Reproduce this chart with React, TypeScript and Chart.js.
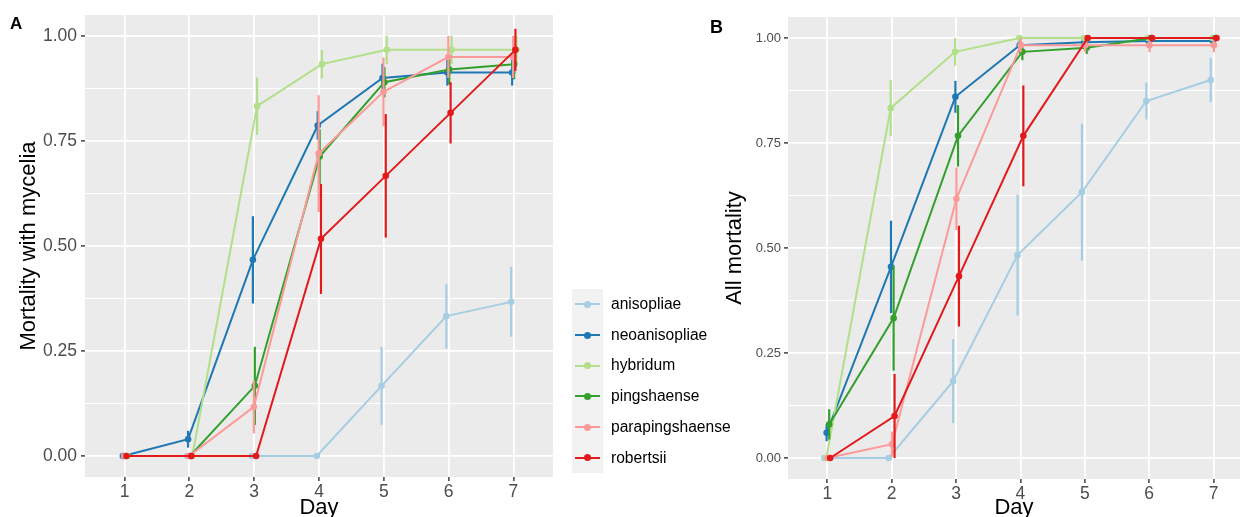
import React, { useEffect, useRef } from 'react';
import { Chart, registerables } from 'chart.js';

Chart.register(...registerables);

const FONT = "'Liberation Sans', Arial, Helvetica, sans-serif";

// ---------- data ----------
const DAYS = [1, 2, 3, 4, 5, 6, 7];
const SPECIES = ['anisopliae', 'neoanisopliae', 'hybridum', 'pingshaense', 'parapingshaense', 'robertsii'];
const COLORS = ['#A6CEE3', '#1F78B4', '#B2DF8A', '#33A02C', '#FB9A99', '#E31A1C'];
const Y_MAJOR = [0, 0.25, 0.5, 0.75, 1];
const Y_MINOR = [0.125, 0.375, 0.625, 0.875];

// Panel A: mortality with mycelia (mean and error half-width)
const A_ANISOPLIAE = [0, 0, 0, 0, 0.167, 0.333, 0.367];
const A_ANISOPLIAE_ERR = [0, 0, 0, 0, 0.093, 0.077, 0.083];
const A_NEOANISOPLIAE = [0, 0.04, 0.467, 0.787, 0.9, 0.913, 0.913];
const A_NEOANISOPLIAE_ERR = [0, 0.02, 0.104, 0.034, 0.034, 0.031, 0.031];
const A_HYBRIDUM = [0, 0, 0.833, 0.933, 0.967, 0.967, 0.967];
const A_HYBRIDUM_ERR = [0, 0, 0.068, 0.034, 0.034, 0.034, 0.034];
const A_PINGSHAENSE = [0, 0, 0.167, 0.713, 0.89, 0.92, 0.933];
const A_PINGSHAENSE_ERR = [0, 0, 0.093, 0.065, 0.036, 0.036, 0.036];
const A_PARAPINGSHAENSE = [0, 0, 0.117, 0.72, 0.867, 0.95, 0.95];
const A_PARAPINGSHAENSE_ERR = [0, 0, 0.063, 0.139, 0.082, 0.05, 0.05];
const A_ROBERTSII = [0, 0, 0, 0.517, 0.667, 0.817, 0.967];
const A_ROBERTSII_ERR = [0, 0, 0, 0.131, 0.147, 0.073, 0.05];

// Panel B: all mortality
const B_ANISOPLIAE = [0, 0, 0.183, 0.483, 0.633, 0.85, 0.9];
const B_ANISOPLIAE_ERR = [0, 0, 0.1, 0.144, 0.163, 0.044, 0.053];
const B_NEOANISOPLIAE = [0.06, 0.455, 0.86, 0.983, 0.99, 0.993, 0.993];
const B_NEOANISOPLIAE_ERR = [0.02, 0.11, 0.038, 0.01, 0.01, 0.007, 0.007];
const B_HYBRIDUM = [0, 0.833, 0.967, 1, 1, 1, 1];
const B_HYBRIDUM_ERR = [0, 0.067, 0.033, 0, 0, 0, 0];
const B_PINGSHAENSE = [0.08, 0.333, 0.767, 0.967, 0.977, 1, 1];
const B_PINGSHAENSE_ERR = [0.036, 0.125, 0.073, 0.02, 0.015, 0, 0];
const B_PARAPINGSHAENSE = [0, 0.033, 0.617, 0.983, 0.983, 0.983, 0.983];
const B_PARAPINGSHAENSE_ERR = [0, 0.03, 0.075, 0.017, 0.017, 0.017, 0.017];
const B_ROBERTSII = [0, 0.1, 0.433, 0.767, 1, 1, 1];
const B_ROBERTSII_ERR = [0, 0.1, 0.12, 0.12, 0, 0, 0];

// small horizontal dodge per species (in day units)
const DODGE_A = [-0.035, -0.02, 0.045, 0.01, -0.005, 0.03];
const DODGE_B = [-0.045, -0.01, -0.015, 0.03, 0.005, 0.045];

// ---------- plugins ----------
const bgPlugin = {
  id: 'panelBg',
  beforeDraw(chart: any) {
    const { ctx, chartArea: a } = chart;
    ctx.save();
    ctx.fillStyle = '#EBEBEB';
    ctx.fillRect(a.left, a.top, a.right - a.left, a.bottom - a.top);
    ctx.restore();
  },
};

const errPlugin = {
  id: 'errBars',
  afterDatasetDraw(chart: any, args: any) {
    const ds = chart.data.datasets[args.index];
    const errs = ds.errors;
    if (!errs) return;
    const yScale = chart.scales.y;
    const { ctx } = chart;
    ctx.save();
    ctx.strokeStyle = ds.borderColor;
    ctx.lineWidth = 2.2;
    args.meta.data.forEach((pt: any, i: number) => {
      const e = errs[i];
      if (!e) return;
      const v = ds.data[i].y;
      ctx.beginPath();
      ctx.moveTo(pt.x, yScale.getPixelForValue(v - e));
      ctx.lineTo(pt.x, yScale.getPixelForValue(v + e));
      ctx.stroke();
    });
    ctx.restore();
  },
};

const isMajor = (v: number) => Y_MAJOR.some((m) => Math.abs(m - v) < 1e-9);

function buildConfig(p: any) {
  const datasets = SPECIES.map((name, s) => ({
    label: name,
    data: DAYS.map((d, i) => ({ x: d + p.dodge[s], y: p.values[s][i] })),
    errors: p.errors[s],
    borderColor: COLORS[s],
    backgroundColor: COLORS[s],
    pointBackgroundColor: COLORS[s],
    pointBorderColor: COLORS[s],
    pointBorderWidth: 0,
    pointRadius: 3.3,
    borderWidth: 2,
    tension: 0,
    fill: false,
    order: SPECIES.length - s,
  }));
  return {
    type: 'line',
    data: { datasets },
    options: {
      responsive: false,
      animation: false,
      layout: { padding: { top: p.padTop, right: p.padRight, left: 0, bottom: 0 } },
      plugins: { legend: { display: false }, tooltip: { enabled: false } },
      scales: {
        x: {
          type: 'linear',
          min: p.xMin,
          max: p.xMax,
          afterBuildTicks: (sc: any) => {
            sc.ticks = DAYS.map((v) => ({ value: v }));
          },
          afterFit: (sc: any) => {
            sc.height = p.xAxisHeight;
          },
          ticks: {
            autoSkip: false,
            maxRotation: 0,
            padding: 1,
            color: '#4D4D4D',
            font: { family: FONT, size: 17.5 },
            callback: (v: any) => String(v),
          },
          grid: { color: '#FFFFFF', lineWidth: 1.8, tickColor: '#333333', tickLength: 4, tickWidth: 1.4 },
          border: { display: false },
          title: {
            display: true,
            text: 'Day',
            color: '#000000',
            font: { family: FONT, size: 22, lineHeight: 0.8 },
            padding: 0,
          },
        },
        y: {
          type: 'linear',
          min: -0.05,
          max: 1.05,
          afterBuildTicks: (sc: any) => {
            sc.ticks = [...Y_MAJOR, ...Y_MINOR].sort((a, b) => a - b).map((v) => ({ value: v }));
          },
          afterFit: (sc: any) => {
            sc.width = p.yAxisWidth;
          },
          ticks: {
            autoSkip: false,
            padding: p.yTickPad,
            color: '#4D4D4D',
            font: { family: FONT, size: p.yTickSize },
            callback: (v: any) => (isMajor(v) ? Number(v).toFixed(2) : ''),
          },
          grid: {
            color: '#FFFFFF',
            lineWidth: (c: any) => (c.tick && isMajor(c.tick.value) ? 1.8 : 1.0),
            tickColor: (c: any) => (c.tick && isMajor(c.tick.value) ? '#333333' : 'rgba(0,0,0,0)'),
            tickLength: 4,
            tickWidth: 1.4,
          },
          border: { display: false },
          title: {
            display: true,
            text: p.yTitle,
            color: '#000000',
            font: { family: FONT, size: p.yTitleSize, lineHeight: 1 },
            padding: { top: p.yTitlePad, bottom: 0 },
          },
        },
      },
    },
    plugins: [bgPlugin, errPlugin],
  };
}

const PANEL_A = {
  values: [A_ANISOPLIAE, A_NEOANISOPLIAE, A_HYBRIDUM, A_PINGSHAENSE, A_PARAPINGSHAENSE, A_ROBERTSII],
  errors: [A_ANISOPLIAE_ERR, A_NEOANISOPLIAE_ERR, A_HYBRIDUM_ERR, A_PINGSHAENSE_ERR, A_PARAPINGSHAENSE_ERR, A_ROBERTSII_ERR],
  dodge: DODGE_A,
  padTop: 15,
  padRight: 7,
  xMin: 0.39,
  xMax: 7.61,
  xAxisHeight: 40,
  yAxisWidth: 85,
  yTickSize: 17.5,
  yTickPad: 4,
  yTitle: 'Mortality with mycelia',
  yTitleSize: 22,
  yTitlePad: 18,
};

const PANEL_B = {
  values: [B_ANISOPLIAE, B_NEOANISOPLIAE, B_HYBRIDUM, B_PINGSHAENSE, B_PARAPINGSHAENSE, B_ROBERTSII],
  errors: [B_ANISOPLIAE_ERR, B_NEOANISOPLIAE_ERR, B_HYBRIDUM_ERR, B_PINGSHAENSE_ERR, B_PARAPINGSHAENSE_ERR, B_ROBERTSII_ERR],
  dodge: DODGE_B,
  padTop: 17,
  padRight: 0,
  xMin: 0.39,
  xMax: 7.41,
  xAxisHeight: 38,
  yAxisWidth: 98,
  yTickSize: 13,
  yTickPad: 3,
  yTitle: 'All mortality',
  yTitleSize: 22,
  yTitlePad: 34,
};

function Panel({ cfg, left, width }: { cfg: any; left: number; width: number }) {
  const ref = useRef<HTMLCanvasElement | null>(null);
  useEffect(() => {
    if (!ref.current) return;
    const chart = new Chart(ref.current, buildConfig(cfg) as any);
    return () => chart.destroy();
  }, [cfg]);
  return (
    <canvas
      ref={ref}
      width={width}
      height={517}
      style={{ position: 'absolute', left, top: 0, width, height: 517 }}
    />
  );
}

function Legend() {
  const top = 289;
  const rowH = 30.7;
  return (
    <div style={{ position: 'absolute', left: 0, top: 0 }}>
      <div
        style={{
          position: 'absolute',
          left: 572,
          top,
          width: 31,
          height: rowH * SPECIES.length,
          background: '#F2F2F2',
        }}
      />
      {SPECIES.map((name, i) => (
        <div key={name} style={{ position: 'absolute', left: 0, top: top + i * rowH, height: rowH }}>
          <div
            style={{
              position: 'absolute',
              left: 575,
              top: rowH / 2 - 1,
              width: 25,
              height: 2,
              background: COLORS[i],
            }}
          />
          <div
            style={{
              position: 'absolute',
              left: 587.5 - 3.5,
              top: rowH / 2 - 3.5,
              width: 7,
              height: 7,
              borderRadius: '50%',
              background: COLORS[i],
            }}
          />
          <div
            style={{
              position: 'absolute',
              left: 611,
              top: 0,
              height: rowH,
              lineHeight: `${rowH}px`,
              fontFamily: FONT,
              fontSize: 15.6,
              color: '#000',
              whiteSpace: 'nowrap',
            }}
          >
            {name}
          </div>
        </div>
      ))}
    </div>
  );
}

export default function App() {
  return (
    <div
      style={{
        position: 'fixed',
        left: 0,
        top: 0,
        width: 1244,
        height: 517,
        background: '#FFFFFF',
        overflow: 'hidden',
      }}
    >
      <Panel cfg={PANEL_A} left={0} width={560} />
      <Panel cfg={PANEL_B} left={690} width={554} />
      <Legend />
      <div
        style={{
          position: 'absolute',
          left: 10,
          top: 14.5,
          fontFamily: FONT,
          fontWeight: 'bold',
          fontSize: 17,
          lineHeight: 1,
          color: '#000',
        }}
      >
        A
      </div>
      <div
        style={{
          position: 'absolute',
          left: 710,
          top: 17.7,
          fontFamily: FONT,
          fontWeight: 'bold',
          fontSize: 18,
          lineHeight: 1,
          color: '#000',
        }}
      >
        B
      </div>
    </div>
  );
}
